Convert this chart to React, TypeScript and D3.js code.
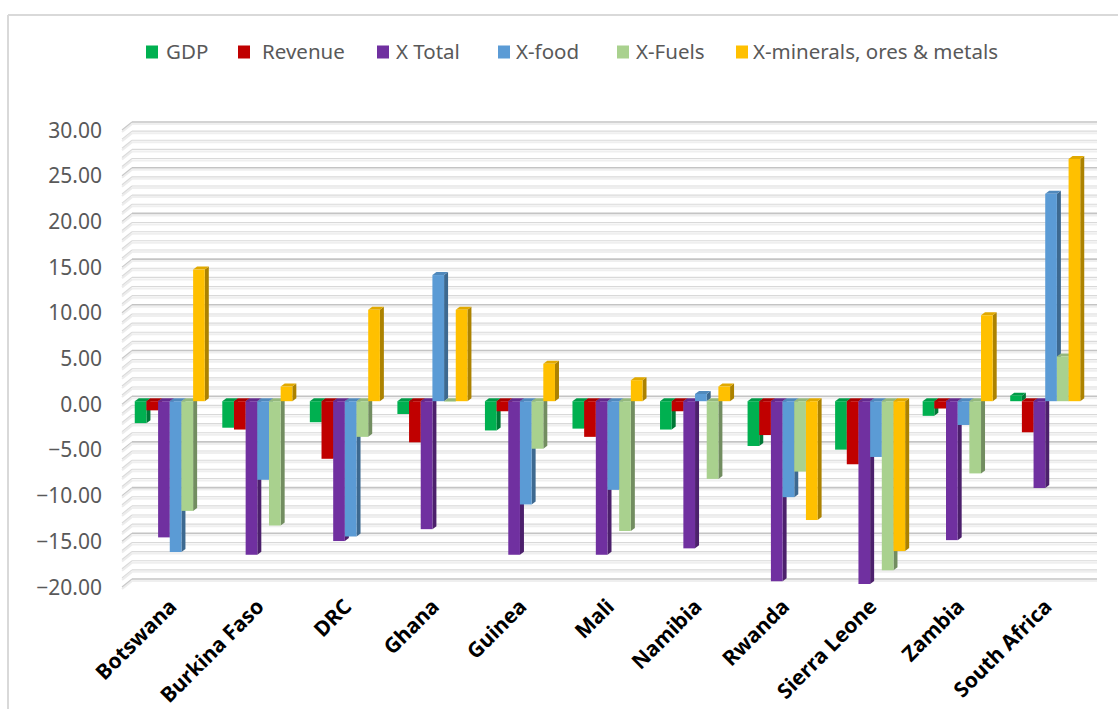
import React from "react";
import * as d3 from "d3";

const categories = ["Botswana", "Burkina Faso", "DRC", "Ghana", "Guinea", "Mali", "Namibia", "Rwanda", "Sierra Leone", "Zambia", "South Africa"];
const seriesNames = ["GDP", "Revenue", "X Total", "X-food", "X-Fuels", "X-minerals, ores & metals"];
const gdp = [-2.4, -2.9, -2.3, -1.4, -3.2, -3.0, -3.1, -4.9, -5.3, -1.6, 0.6];
const revenue = [-1.0, -3.1, -6.3, -4.5, -1.1, -3.9, -1.1, -3.7, -6.9, -0.8, -3.4];
const xTotal = [-14.9, -16.8, -15.3, -14.0, -16.8, -16.8, -16.1, -19.7, -20.0, -15.2, -9.5];
const xFood = [-16.5, -8.6, -14.8, 13.8, -11.3, -9.7, 0.8, -10.5, -6.1, -2.6, 22.7];
const xFuels = [-12.0, -13.6, -3.9, 0.0, -5.2, -14.2, -8.5, -7.7, -18.5, -7.9, 4.9];
const xMinerals = [14.4, 1.6, 10.0, 10.0, 4.1, 2.3, 1.6, -13.0, -16.4, 9.4, 26.5];
const seriesValues = [gdp, revenue, xTotal, xFood, xFuels, xMinerals];
const colors = ["#00B050", "#C00000", "#7030A0", "#5B9BD5", "#A9D18E", "#FFC000"];
const yTicks = [-20, -15, -10, -5, 0, 5, 10, 15, 20, 25, 30];
const minorTicks = d3.range(-20, 31, 1);

const W = 1118;
const H = 709;
const FONT = "'Noto Sans', 'Open Sans', sans-serif";

export default function App() {
  const y = d3.scaleLinear().domain([-20, 30]).range([587, 130]);
  const x0 = d3.scaleBand<string>().domain(categories).range([126, 1089]).paddingInner(0.2).paddingOuter(0.1);
  const x1 = d3.scaleBand<number>().domain(d3.range(seriesNames.length)).range([0, x0.bandwidth()]);
  const bw = x1.bandwidth();
  const barOff = -3; // bars sit mid-depth
  const dx = 4, dy = 3; // bar depth
  const wallDx = 10, wallDy = 8; // wall depth
  const gridLeft = 122;
  const gridRight = 1097;

  const legendPos = [146, 238, 377, 498, 617, 736];
  const legendTextOff = [20, 24, 19, 18, 19, 17];

  const bars: React.ReactNode[] = [];
  categories.forEach((c, ci) => {
    seriesValues.forEach((vals, si) => {
      const v = vals[ci];
      const xl = (x0(c) as number) + (x1(si) as number);
      const yz = y(0) + barOff;
      const yv = y(v) + barOff;
      const yTop = Math.min(yz, yv);
      const yBot = Math.max(yz, yv);
      const col = d3.color(colors[si])!;
      const side = col.darker(1.1).formatHex();
      const top = col.darker(0.35).formatHex();
      const key = `${ci}-${si}`;
      bars.push(
        <g key={key}>
          <polygon
            points={`${xl + bw},${yTop} ${xl + bw + dx},${yTop - dy} ${xl + bw + dx},${yBot - dy} ${xl + bw},${yBot}`}
            fill={side}
          />
          <polygon
            points={`${xl},${yTop} ${xl + bw},${yTop} ${xl + bw + dx},${yTop - dy} ${xl + dx},${yTop - dy}`}
            fill={top}
          />
          <rect x={xl} y={yTop} width={bw} height={Math.max(0.5, yBot - yTop)} fill={colors[si]} />
        </g>
      );
    });
  });

  return (
    <svg width={W} height={H} style={{ position: "absolute", left: 0, top: 0, display: "block", background: "#fff" }}>
      <rect x={0} y={0} width={W} height={H} fill="#fff" />
      {/* chart border */}
      <line x1={8} y1={15} x2={W} y2={15} stroke="#d9d9d9" strokeWidth={2} />
      <line x1={8} y1={15} x2={8} y2={H} stroke="#d9d9d9" strokeWidth={2} />

      {/* legend */}
      {seriesNames.map((s, i) => (
        <g key={s} transform={`translate(${legendPos[i]},52)`}>
          <rect x={0} y={-6.5} width={12} height={13} fill={colors[i]} />
          <text x={legendTextOff[i]} y={7} fontFamily={FONT} fontSize={20.5} fill="#595959">
            {s}
          </text>
        </g>
      ))}

      {/* gridlines */}
      {minorTicks.map((t) => {
        const yy = y(t);
        const major = t % 5 === 0;
        return (
          <g key={t}>
            <line x1={gridLeft} y1={yy + 2} x2={gridLeft + wallDx} y2={yy - wallDy + 2} stroke="#ececec" strokeWidth={2} />
            <line x1={gridLeft} y1={yy} x2={gridLeft + wallDx} y2={yy - wallDy} stroke={major ? "#c8c8c8" : "#dadada"} strokeWidth={1.2} />
            <line x1={gridLeft + wallDx} y1={yy - wallDy + 2} x2={gridRight} y2={yy - wallDy + 2} stroke="#efefef" strokeWidth={2} />
            <line x1={gridLeft + wallDx} y1={yy - wallDy} x2={gridRight} y2={yy - wallDy} stroke={major ? "#c4c4c4" : "#d9d9d9"} strokeWidth={major ? 1.6 : 1.1} />
          </g>
        );
      })}

      {/* y axis labels */}
      {yTicks.map((t) => (
        <text key={t} x={102} y={y(t)} dy="0.36em" textAnchor="end" fontFamily={FONT} fontSize={21} fill="#595959">
          {d3.format(".2f")(t)}
        </text>
      ))}

      {bars}

      {/* x labels */}
      {categories.map((c) => {
        const cx = (x0(c) as number) + x0.bandwidth() / 2 + 8;
        return (
          <text
            key={c}
            transform={`translate(${cx},${608}) rotate(-45)`}
            textAnchor="end"
            fontFamily={FONT}
            fontWeight={700}
            fontSize={21}
            fill="#000"
          >
            {c}
          </text>
        );
      })}
    </svg>
  );
}
